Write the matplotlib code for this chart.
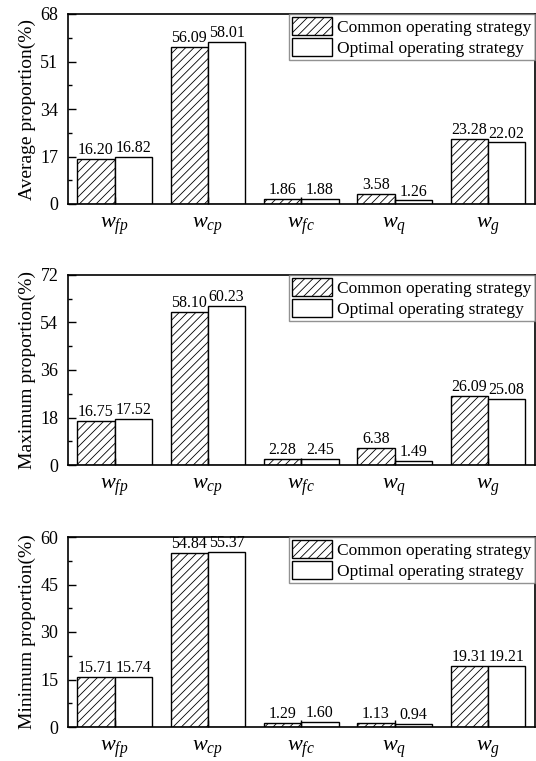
import matplotlib
matplotlib.use("Agg")
import matplotlib.pyplot as plt
import numpy as np
from matplotlib.ticker import MultipleLocator

plt.rcParams['font.family'] = 'Liberation Serif'
plt.rcParams['mathtext.fontset'] = 'custom'
plt.rcParams['mathtext.it'] = 'Liberation Serif:italic'
plt.rcParams['mathtext.rm'] = 'Liberation Serif'
plt.rcParams['hatch.linewidth'] = 0.6
plt.rcParams['hatch.color'] = '#333333'

categories = [r'$w_{fp}$', r'$w_{cp}$', r'$w_{fc}$', r'$w_{q}$', r'$w_{g}$']
series_names = ['Common operating strategy', 'Optimal operating strategy']

avg_common = [16.20, 56.09, 1.86, 3.58, 23.28]
avg_optimal = [16.82, 58.01, 1.88, 1.26, 22.02]
max_common = [16.75, 58.10, 2.28, 6.38, 26.09]
max_optimal = [17.52, 60.23, 2.45, 1.49, 25.08]
min_common = [15.71, 54.84, 1.29, 1.13, 19.31]
min_optimal = [15.74, 55.37, 1.60, 0.94, 19.21]

panels = [
    ('Average proportion(%)', avg_common, avg_optimal, 68, 17),
    ('Maximum proportion(%)', max_common, max_optimal, 72, 18),
    ('Minimum proportion(%)', min_common, min_optimal, 60, 15),
]

W, H = 536, 761
fig = plt.figure(figsize=(W / 100, H / 100), dpi=100)
tops = [14, 275, 537]
left, right, ph = 68, 534.5, 190

x = np.arange(len(categories))
bw = 0.4
for (ylabel, common, optimal, ymax, step), top in zip(panels, tops):
    ax = fig.add_axes([left / W, 1 - (top + ph) / H, (right - left) / W, ph / H])
    b1 = ax.bar(x - bw / 2, common, bw, facecolor='white', edgecolor='black',
                hatch='////', linewidth=1.0, label=series_names[0])
    b2 = ax.bar(x + bw / 2, optimal, bw, facecolor='white', edgecolor='black',
                linewidth=1.0, label=series_names[1])
    for bars, vals in ((b1, common), (b2, optimal)):
        for r, v in zip(bars, vals):
            ax.text(r.get_x() + r.get_width() / 2, v + ymax * 0.005, f'{v:.2f}',
                    ha='center', va='bottom', fontsize=11.5)
    ax.set_xlim(-0.5, 4.5)
    ax.set_ylim(0, ymax)
    ax.yaxis.set_major_locator(MultipleLocator(step))
    ax.yaxis.set_minor_locator(MultipleLocator(step / 2))
    ax.set_xticks(x)
    ax.set_xticklabels(categories, fontsize=16)
    ax.tick_params(axis='y', which='major', direction='in', length=6, width=1,
                   labelsize=13, pad=7)
    ax.tick_params(axis='y', which='minor', direction='in', length=3, width=1)
    ax.tick_params(axis='x', direction='in', length=5, width=1, pad=8)
    ax.set_ylabel(ylabel, fontsize=14, labelpad=3)
    for s in ax.spines.values():
        s.set_linewidth(1.2)
    leg = ax.legend(loc='upper right', fontsize=12.5, borderaxespad=0, frameon=True,
                    fancybox=False, handlelength=2.3, handleheight=1.2,
                    handletextpad=0.25, labelspacing=0.1, borderpad=0.2)
    leg.get_frame().set_edgecolor('#777777')
    leg.get_frame().set_linewidth(1.0)

fig.savefig('out.png', dpi=100)
